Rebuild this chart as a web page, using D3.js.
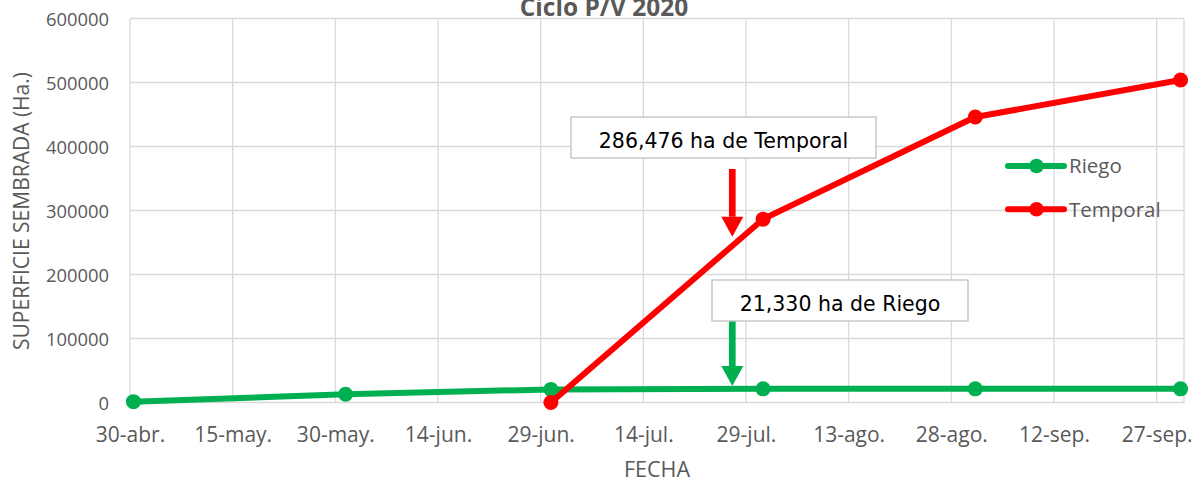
<!DOCTYPE html>
<html>
<head>
<meta charset="utf-8">
<script src="https://cdn.jsdelivr.net/npm/d3@7/dist/d3.min.js"></script>
<style>
  html, body { margin: 0; padding: 0; background: #fff; }
  svg { display: block; }
</style>
</head>
<body>
<svg id="chart" width="1202" height="481"></svg>
<script>
// ---- data ----
const dates = ["2020-04-30", "2020-05-31", "2020-06-30", "2020-07-31", "2020-08-31", "2020-09-30"];
const riego = [1300, 12800, 20500, 21330, 21330, 21330];
const temporal = [null, null, 0, 286476, 446000, 504000];
const xTickDates = ["2020-04-30", "2020-05-15", "2020-05-30", "2020-06-14", "2020-06-29", "2020-07-14",
                    "2020-07-29", "2020-08-13", "2020-08-28", "2020-09-12", "2020-09-27"];
const xTickLabels = ["30-abr.", "15-may.", "30-may.", "14-jun.", "29-jun.", "14-jul.",
                     "29-jul.", "13-ago.", "28-ago.", "12-sep.", "27-sep."];
const yTicks = [0, 100000, 200000, 300000, 400000, 500000, 600000];
const seriesNames = ["Riego", "Temporal"];
const annotationTexts = ["286,476 ha de Temporal", "21,330 ha de Riego"];
const annotationDate = "2020-07-27";
const annotationValues = [259000, 25800];

(function () {
// ---- setup ----
const parse = d3.timeParse("%Y-%m-%d");
const svg = d3.select("#chart");
const pLeft = 130, pRight = 1184, pTop = 18.5, pBottom = 402.5;

const x = d3.scaleTime()
  .domain([parse("2020-04-30"), parse("2020-10-01")])
  .range([pLeft, pRight]);
const y = d3.scaleLinear().domain([0, 600000]).range([pBottom, pTop]);
// points sit about half a day right of the day gridlines in the reference
const xPt = d => x(d3.timeHour.offset(d, 12));

const green = "#00b050", red = "#ff0000", grid = "#d9d9d9", txt = "#595959";
const sans = "'Open Sans', sans-serif";

// gridlines
const g = svg.append("g");
g.selectAll("line.h").data(yTicks).join("line")
  .attr("x1", pLeft).attr("x2", pRight)
  .attr("y1", d => y(d)).attr("y2", d => y(d))
  .attr("stroke", grid).attr("stroke-width", 1.3);
g.selectAll("line.v").data(xTickDates).join("line")
  .attr("x1", d => x(parse(d))).attr("x2", d => x(parse(d)))
  .attr("y1", pTop).attr("y2", pBottom)
  .attr("stroke", grid).attr("stroke-width", 1.3);
g.append("line").attr("x1", pRight).attr("x2", pRight).attr("y1", pTop).attr("y2", pBottom)
  .attr("stroke", grid).attr("stroke-width", 1.3);

// y axis labels
const yAxis = d3.axisLeft(y).tickValues(yTicks).tickSize(0).tickPadding(0).tickFormat(d3.format("d"));
const ya = svg.append("g").attr("transform", `translate(${109},0)`).call(yAxis);
ya.select(".domain").remove();
ya.selectAll("text").attr("font-family", sans).attr("font-size", 18.4).attr("fill", txt)
  .attr("dy", "0.36em");

// x axis labels
const xAxis = d3.axisBottom(x).tickValues(xTickDates.map(parse)).tickSize(0).tickPadding(0)
  .tickFormat((d, i) => xTickLabels[i]);
const xa = svg.append("g").attr("transform", `translate(0,${pBottom + 39.5})`).call(xAxis);
xa.select(".domain").remove();
xa.selectAll("text").attr("font-family", sans).attr("font-size", 21).attr("fill", txt).attr("dy", 0);

// axis titles
svg.append("text").attr("x", 657).attr("y", 477).attr("text-anchor", "middle")
  .attr("font-family", sans).attr("font-size", 21.5).attr("fill", txt).text("FECHA");
svg.append("text").attr("transform", "translate(29,211) rotate(-90)").attr("text-anchor", "middle")
  .attr("font-family", sans).attr("font-size", 21).attr("fill", txt).text("SUPERFICIE SEMBRADA (Ha.)");

// title
svg.append("text").attr("x", 604).attr("y", 15.5).attr("text-anchor", "middle")
  .attr("font-family", sans).attr("font-weight", "bold").attr("font-size", 24.5).attr("fill", txt)
  .text("Ciclo P/V 2020");

// series
const series = [
  { name: seriesNames[0], values: riego, color: green },
  { name: seriesNames[1], values: temporal, color: red }
];
const line = d3.line().defined(d => d.v !== null).x(d => xPt(d.d)).y(d => y(d.v));
series.forEach(s => {
  const pts = dates.map((d, i) => ({ d: parse(d), v: s.values[i] }));
  svg.append("path").datum(pts).attr("d", line)
    .attr("fill", "none").attr("stroke", s.color).attr("stroke-width", 6)
    .attr("stroke-linejoin", "round").attr("stroke-linecap", "round");
  svg.append("g").selectAll("circle").data(pts.filter(p => p.v !== null)).join("circle")
    .attr("cx", p => xPt(p.d)).attr("cy", p => y(p.v)).attr("r", 7.5).attr("fill", s.color);
});

// legend
series.forEach((s, i) => {
  const ly = 166 + i * 43.3;
  svg.append("line").attr("x1", 1008).attr("x2", 1064).attr("y1", ly).attr("y2", ly)
    .attr("stroke", s.color).attr("stroke-width", 6).attr("stroke-linecap", "round");
  svg.append("circle").attr("cx", 1036.5).attr("cy", ly).attr("r", 7.3).attr("fill", s.color);
  svg.append("text").attr("x", 1069).attr("y", ly + 7.3)
    .attr("font-family", sans).attr("font-size", 20.5).attr("fill", txt).text(s.name);
});

// annotations
const annFont = "'DejaVu Sans', sans-serif";
function annotate(text, boxX, boxY, boxW, boxH, tipDate, tipVal, shaftTop, color) {
  const tx = x(parse(tipDate)), ty = y(tipVal);
  const headH = 20, headW = 11, shaftW = 6.7;
  svg.append("rect").attr("x", tx - shaftW / 2).attr("y", shaftTop)
    .attr("width", shaftW).attr("height", ty - headH - shaftTop).attr("fill", color);
  svg.append("path")
    .attr("d", `M${tx - headW},${ty - headH} L${tx + headW},${ty - headH} L${tx},${ty} Z`)
    .attr("fill", color);
  svg.append("rect").attr("x", boxX).attr("y", boxY).attr("width", boxW).attr("height", boxH)
    .attr("fill", "#fff").attr("stroke", "#bfbfbf").attr("stroke-width", 1.3);
  svg.append("text").attr("x", boxX + boxW / 2).attr("y", boxY + 30.5).attr("text-anchor", "middle")
    .attr("font-family", annFont).attr("font-size", 20.5).attr("fill", "#000").text(text);
}
annotate(annotationTexts[0], 571, 117, 305, 41, annotationDate, annotationValues[0], 169, red);
annotate(annotationTexts[1], 712, 280, 256, 41, annotationDate, annotationValues[1], 321, green);
})();
</script>
</body>
</html>
